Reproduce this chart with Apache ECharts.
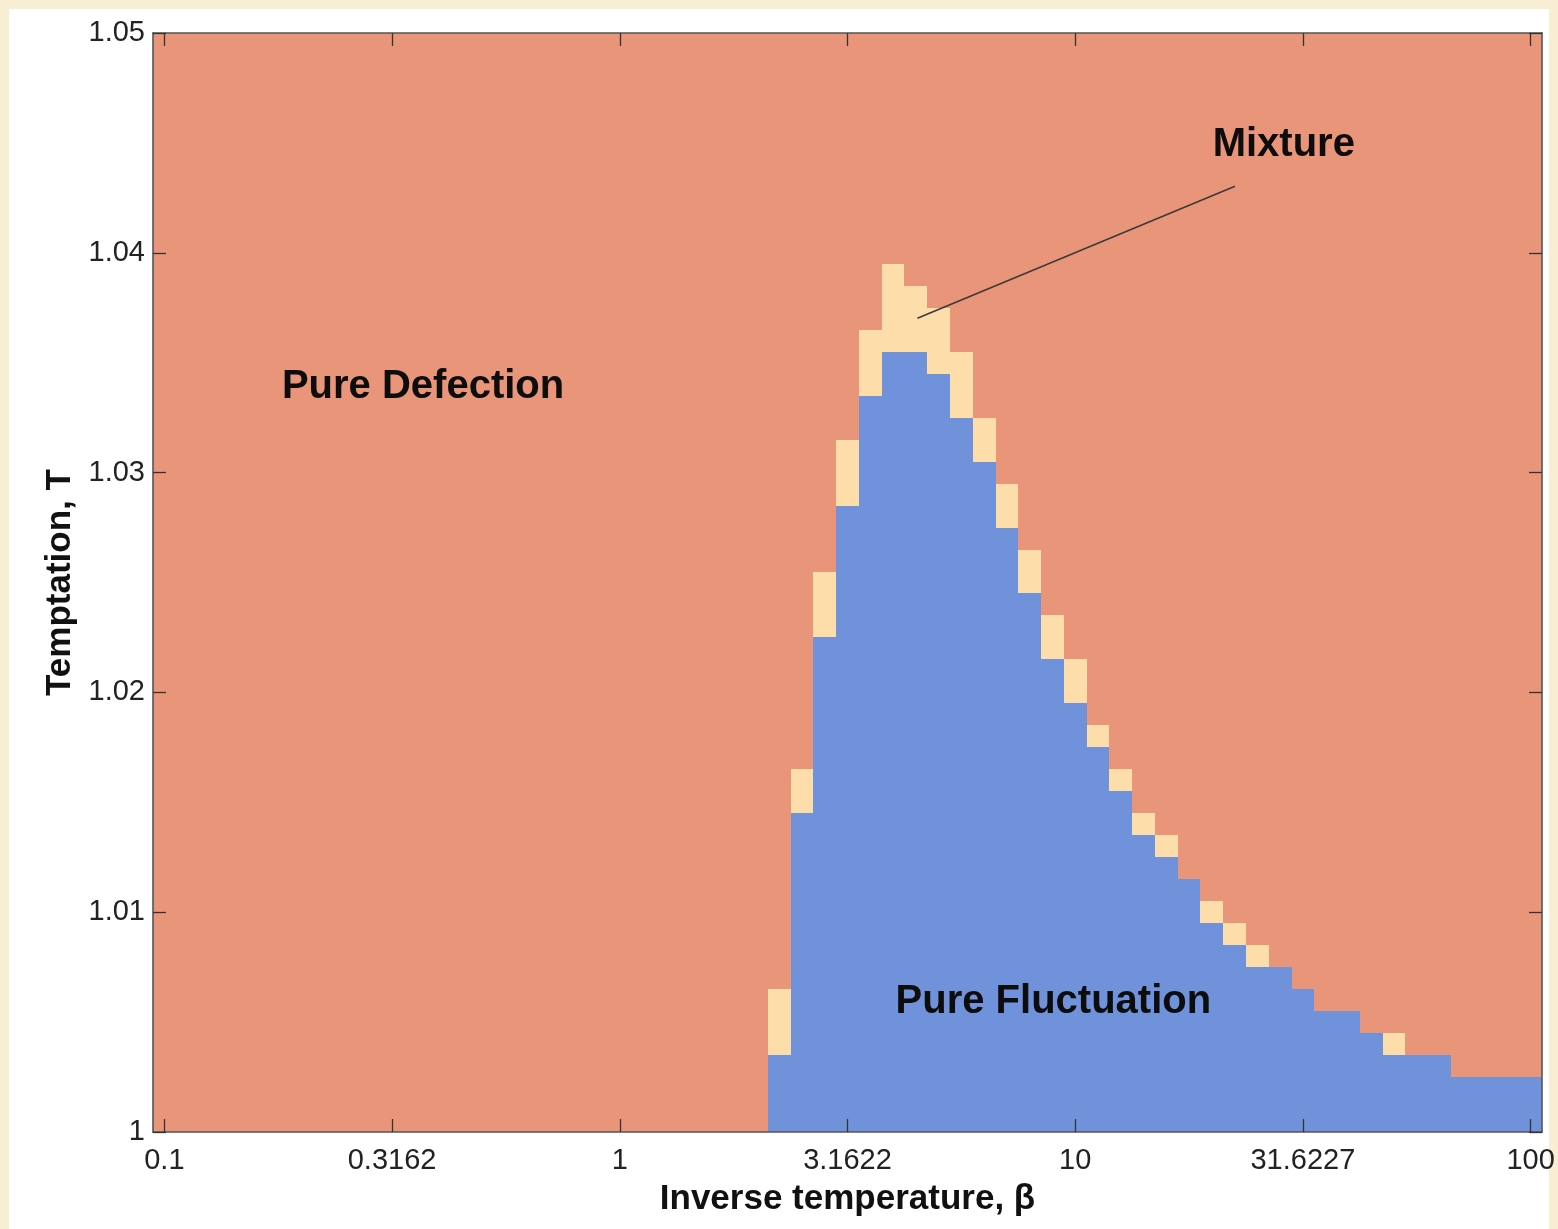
<!DOCTYPE html>
<html>
<head>
<meta charset="utf-8">
<title>Phase diagram: temptation vs inverse temperature</title>
<script src="https://cdn.jsdelivr.net/npm/echarts@6/dist/echarts.min.js"></script>
<style>
  html, body { margin: 0; padding: 0; background: #f8eed3; overflow: hidden; }
  #frame { position: absolute; left: 9px; top: 9px; width: 1540px; height: 1220px; background: #ffffff; }
  #chart { position: absolute; left: 0; top: 0; width: 1558px; height: 1229px; }
</style>
</head>
<body>
<div id="frame"></div>
<div id="chart"></div>
<script>
// Simulation grid: log10(beta) from -1 to 2 in steps of 0.05, T from 1 to 1.05 in steps of 0.001
const LOG_BETA_FIRST = -1;
const LOG_BETA_STEP = 0.05;
const LOG_BETA_COUNT = 61;
const T_FIRST = 1;
const T_STEP = 0.001;
const T_COUNT = 51;

// Axis ticks (x positions are log10(beta))
const xTickValues = [-1, -0.5, 0, 0.5, 1, 1.5, 2];
const xTickLabels = ['0.1', '0.3162', '1', '3.1622', '10', '31.6227', '100'];
const yTickLabels = ['1', '1.01', '1.02', '1.03', '1.04', '1.05'];

// Highest T that ends in pure fluctuation, one entry per beta column (null: never)
const fluctuationTop = [
  null, null, null, null, null, null, null, null, null, null,
  null, null, null, null, null, null, null, null, null, null,
  null, null, null, null, null, null, null,
  1.003, 1.014, 1.022, 1.028, 1.033, 1.035, 1.035, 1.034, 1.032, 1.030,
  1.027, 1.024, 1.021, 1.019, 1.017, 1.015, 1.013, 1.012, 1.011, 1.009,
  1.008, 1.007, 1.007, 1.006, 1.005, 1.005, 1.004, 1.003, 1.003, 1.003,
  1.002, 1.002, 1.002, 1.002
];

// Highest T that ends in a mixed state, one entry per beta column (null: never)
const mixtureTop = [
  null, null, null, null, null, null, null, null, null, null,
  null, null, null, null, null, null, null, null, null, null,
  null, null, null, null, null, null, null,
  1.006, 1.016, 1.025, 1.031, 1.036, 1.039, 1.038, 1.037, 1.035, 1.032,
  1.029, 1.026, 1.023, 1.021, 1.018, 1.016, 1.014, 1.013, 1.011, 1.010,
  1.009, 1.008, 1.007, 1.006, 1.005, 1.005, 1.004, 1.004, 1.003, 1.003,
  1.002, 1.002, 1.002, 1.002
];

// Region annotations, placed at (log10 beta, T)
const regionNames = ['Pure Defection', 'Mixture', 'Pure Fluctuation'];
const regionLogBeta = [-0.432, 1.458, 0.952];
const regionT = [1.0339, 1.0449, 1.00592];

// Pointer from the "Mixture" label down to the mixed cells
const pointerStart = [0.6535, 1.03702];
const pointerEnd = [1.3509, 1.04303];

// 0 = pure defection, 1 = pure fluctuation, 2 = mixture
const stateColors = ['#e9957a', '#7092da', '#fddeaa'];

// Build one cell per (beta, T) grid point
const cells = [];
for (let c = 0; c < LOG_BETA_COUNT; c++) {
  const lb = +(LOG_BETA_FIRST + c * LOG_BETA_STEP).toFixed(3);
  const fTop = fluctuationTop[c] == null ? -1 : Math.round((fluctuationTop[c] - T_FIRST) / T_STEP);
  const mTop = mixtureTop[c] == null ? -1 : Math.round((mixtureTop[c] - T_FIRST) / T_STEP);
  for (let k = 0; k < T_COUNT; k++) {
    const t = +(T_FIRST + k * T_STEP).toFixed(4);
    let state = 0;
    if (k <= fTop) state = 1;
    else if (k <= mTop) state = 2;
    cells.push([lb, t, state]);
  }
}

const labelFont = 'Liberation Sans, Arial, Helvetica, sans-serif';

function cellRenderer(params, api) {
  const x = api.value(0), t = api.value(1);
  const a = api.coord([x - LOG_BETA_STEP / 2, t + T_STEP / 2]);
  const b = api.coord([x + LOG_BETA_STEP / 2, t - T_STEP / 2]);
  const cs = params.coordSys;
  const left = Math.max(Math.round(a[0]), Math.round(cs.x));
  const right = Math.min(Math.round(b[0]), Math.round(cs.x + cs.width));
  const top = Math.max(Math.round(a[1]), Math.round(cs.y));
  const bottom = Math.min(Math.round(b[1]), Math.round(cs.y + cs.height));
  if (right <= left || bottom <= top) return null;
  const color = stateColors[api.value(2)];
  return {
    type: 'rect',
    shape: { x: left, y: top, width: right - left, height: bottom - top },
    style: { fill: color }
  };
}

const tickStyle = { show: true, inside: true, length: 13, lineStyle: { color: '#333', width: 1.3 } };
const lineStyle = { show: true, onZero: false, lineStyle: { color: '#555', width: 1.6 } };

const chart = echarts.init(document.getElementById('chart'), null, { renderer: 'canvas' });
chart.setOption({
  animation: false,
  backgroundColor: 'transparent',
  grid: { left: 153, right: 16, top: 33, bottom: 97, containLabel: false },
  xAxis: [
    {
      type: 'value', position: 'bottom', min: -1.025, max: 2.025, z: 10,
      axisLine: lineStyle,
      axisTick: Object.assign({ customValues: xTickValues }, tickStyle),
      axisLabel: {
        customValues: xTickValues, margin: 14, color: '#222', fontSize: 29, fontFamily: labelFont,
        formatter: v => xTickLabels[xTickValues.findIndex(t => Math.abs(t - v) < 1e-6)]
      },
      splitLine: { show: false },
      name: 'Inverse temperature, β', nameLocation: 'middle', nameGap: 50,
      nameTextStyle: { color: '#111', fontSize: 35, fontWeight: 'bold', fontFamily: labelFont }
    },
    {
      type: 'value', position: 'top', min: -1.025, max: 2.025, z: 10,
      axisLine: lineStyle,
      axisTick: Object.assign({ customValues: xTickValues }, tickStyle),
      axisLabel: { show: false, customValues: xTickValues },
      splitLine: { show: false }
    }
  ],
  yAxis: [
    {
      type: 'value', position: 'left', min: 1, max: 1.05, interval: 0.01, z: 10,
      axisLine: lineStyle,
      axisTick: tickStyle,
      axisLabel: {
        margin: 8, color: '#222', fontSize: 29, fontFamily: labelFont,
        formatter: v => yTickLabels[Math.round((v - 1) / 0.01)]
      },
      splitLine: { show: false },
      name: 'Temptation, T', nameLocation: 'middle', nameGap: 74,
      nameTextStyle: { color: '#111', fontSize: 35, fontWeight: 'bold', fontFamily: labelFont }
    },
    {
      type: 'value', position: 'right', min: 1, max: 1.05, interval: 0.01, z: 10,
      axisLine: lineStyle,
      axisTick: tickStyle,
      axisLabel: { show: false },
      splitLine: { show: false }
    }
  ],
  series: [
    {
      name: 'states',
      type: 'custom',
      coordinateSystem: 'cartesian2d',
      xAxisIndex: 0, yAxisIndex: 0,
      clip: true,
      renderItem: cellRenderer,
      encode: { x: 0, y: 1 },
      data: cells,
      z: 1
    },
    {
      name: 'regions',
      type: 'scatter',
      xAxisIndex: 0, yAxisIndex: 0,
      symbol: 'circle', symbolSize: 0,
      silent: true,
      itemStyle: { opacity: 1, color: '#111' },
      data: regionNames.map((n, i) => ({ name: n, value: [regionLogBeta[i], regionT[i]] })),
      label: {
        show: true, position: 'inside', formatter: '{b}', opacity: 1,
        color: '#0d0d0d', textBorderWidth: 0, fontSize: 40, fontWeight: 'bold', fontFamily: labelFont
      },
      markLine: {
        silent: true, symbol: ['none', 'none'],
        lineStyle: { color: '#3a3a3a', width: 1.5, type: 'solid', opacity: 1 },
        label: { show: false },
        data: [[{ coord: pointerStart }, { coord: pointerEnd }]]
      },
      z: 5
    }
  ]
});
</script>
</body>
</html>
